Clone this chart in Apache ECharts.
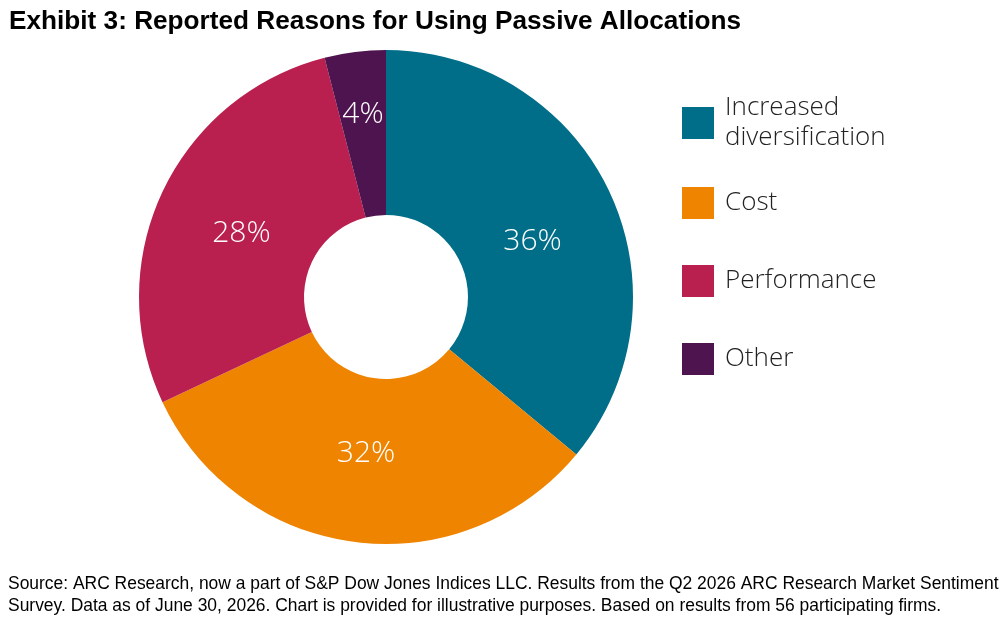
<!DOCTYPE html>
<html><head><meta charset="utf-8">
<script src="https://cdn.jsdelivr.net/npm/echarts@6/dist/echarts.min.js"></script>
<style>html,body{margin:0;padding:0;background:#fff}#c{width:1005px;height:625px}</style>
</head><body><div id="c"></div>
<script>
const categories = ['Increased\ndiversification', 'Cost', 'Performance', 'Other'];
const values = [36, 32, 28, 4];
const colors = ['#006E89', '#EE8400', '#B91F4F', '#4E1450'];
const titleText = 'Exhibit 3: Reported Reasons for Using Passive Allocations';
const footText = 'Source: ARC Research, now a part of S&P Dow Jones Indices LLC. Results from the Q2 2026 ARC Research Market Sentiment\nSurvey. Data as of June 30, 2026. Chart is provided for illustrative purposes. Based on results from 56 participating firms.';
// visual tweaks for label placement (style only)
const labelOffsets = [[-5, 16], [1, -10], [7, 8], [-2, -16]];

const chart = echarts.init(document.getElementById('c'));
const legendTops = [88, 182, 260, 338];
const legends = categories.map((name, i) => ({
  orient: 'vertical', left: 677, top: legendTops[i],
  data: [name], itemWidth: 32, itemHeight: 32, itemGap: 0,
  icon: 'rect', selectedMode: false,
  textStyle: { fontFamily: 'Open Sans', fontWeight: 300, fontSize: 26, color: '#222', lineHeight: 30, padding: [0, 0, 0, 6] }
}));
chart.setOption({
  animation: false,
  color: colors,
  title: [
    { text: titleText, left: 4, top: 4, textStyle: { fontFamily: 'Liberation Sans, Arial', fontWeight: 'bold', fontSize: 26.2, color: '#000' } },
    { text: footText, left: 3, top: 568, textStyle: { fontFamily: 'Liberation Sans, Arial', fontWeight: 'normal', fontSize: 17.45, lineHeight: 22, color: '#000' } }
  ],
  legend: legends,
  series: [{
    type: 'pie',
    center: [386, 297],
    radius: [82, 247],
    startAngle: 90,
    clockwise: true,
    data: categories.map((n, i) => ({ name: n, value: values[i], label: { offset: labelOffsets[i] } })),
    label: {
      position: 'inside',
      formatter: '{c}%',
      color: '#fff',
      fontFamily: 'Open Sans', fontWeight: 300, fontSize: 30
    },
    labelLine: { show: false },
    itemStyle: { borderWidth: 0 },
    emphasis: { disabled: true }
  }]
});
</script></body></html>
